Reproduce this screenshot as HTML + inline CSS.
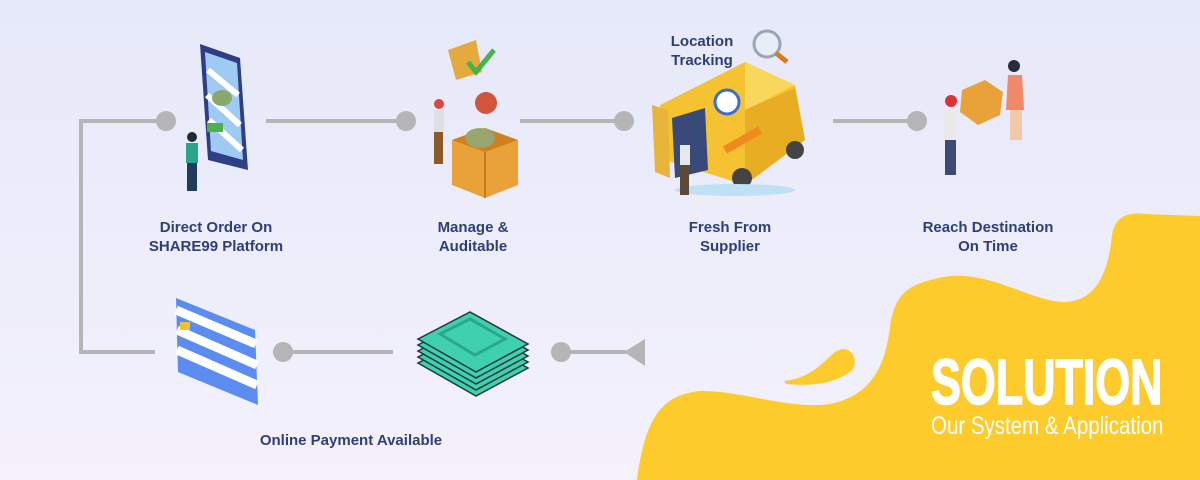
<!DOCTYPE html>
<html><head><meta charset="utf-8"><style>
html,body{margin:0;padding:0}
body{width:1200px;height:480px;overflow:hidden;background:linear-gradient(#e6e9fa,#f4f1fc);position:relative;font-family:"Liberation Sans",sans-serif}
.l{position:absolute;color:#2e3f78;font-weight:bold;font-size:15px;text-align:center;line-height:19px;width:200px}
svg{position:absolute;left:0;top:0}
.sol{position:absolute;left:931px;top:350px;color:#fff;font-weight:bold;font-size:64px;line-height:64px;transform:scaleX(0.7);transform-origin:left top;-webkit-text-stroke:1.5px #fff;white-space:nowrap}
.sub{position:absolute;left:931px;top:414px;color:#fff;font-size:25px;line-height:25px;transform:scaleX(0.82);transform-origin:left top;white-space:nowrap}
</style></head><body>
<svg width="1200" height="480" viewBox="0 0 1200 480">
<path d="M637 480 C645 420 660 395 700 391 C740 390 790 410 830 404 C875 395 886 360 890 327 C895 295 905 283 950 276 C990 272 1030 300 1063 302 C1095 302 1108 275 1112 235 C1115 215 1130 212 1145 214 L1200 216 L1200 480 Z" fill="#fecb2d"/>
<path d="M784 381 C810 378 820 365 835 352 C850 342 860 360 852 370 C835 385 808 386 786 384 Z" fill="#fecb2d"/>
<g stroke="#b5b5b5" stroke-width="4" fill="none">
<path d="M166 121 H81 V352 H155"/>
<path d="M266 121 H406"/>
<path d="M520 121 H624"/>
<path d="M833 121 H917"/>
<path d="M283 352 H393"/>
<path d="M561 352 H626"/>
</g>
<g fill="#b5b5b5">
<circle cx="166" cy="121" r="10"/><circle cx="406" cy="121" r="10"/><circle cx="624" cy="121" r="10"/><circle cx="917" cy="121" r="10"/>
<circle cx="283" cy="352" r="10"/><circle cx="561" cy="352" r="10"/>
<path d="M624 352 L645 339 L645 366 Z"/>
</g>
<path d="M200 44 L240 58 L248 170 L208 160 Z" fill="#2f3f86"/>
<path d="M205 52 L237 63 L243 160 L211 151 Z" fill="#9fcaf4"/>
<path d="M208 70 L238 95 M207 95 L240 125 M209 120 L242 150" stroke="#fff" stroke-width="6"/>
<ellipse cx="222" cy="98" rx="10" ry="8" fill="#8aa86a"/>
<rect x="207" y="123" width="16" height="9" fill="#4db04d"/>
<rect x="186" y="143" width="12" height="20" fill="#2aa58c"/>
<rect x="187" y="163" width="10" height="28" fill="#1d3d5c"/>
<circle cx="192" cy="137" r="5" fill="#1d2a3a"/>
<path d="M452 140 L485 128 L518 140 L518 185 L485 198 L452 185 Z" fill="#e9a23a"/>
<path d="M452 140 L485 152 L518 140 L485 128 Z" fill="#d27f1e"/>
<path d="M485 152 L485 198" stroke="#c97a1f" stroke-width="2"/>
<ellipse cx="480" cy="138" rx="15" ry="10" fill="#98a66e"/>
<circle cx="486" cy="103" r="11" fill="#d2553e"/>
<path d="M448 50 L476 40 L482 72 L456 80 Z" fill="#e5aa3c"/>
<path d="M468 62 L476 72 L494 50" stroke="#47b34a" stroke-width="5" fill="none"/>
<rect x="434" y="110" width="10" height="22" fill="#e0e0e0"/>
<rect x="434" y="132" width="9" height="32" fill="#8a5a2b"/>
<circle cx="439" cy="104" r="5" fill="#d44"/>
<path d="M660 105 L745 62 L795 85 L805 140 L745 185 L665 160 Z" fill="#f5c331"/>
<path d="M745 62 L795 85 L745 110 Z" fill="#f9d75a"/>
<path d="M745 110 L795 88 L805 140 L745 185 Z" fill="#e8ad22"/>
<path d="M652 105 L668 110 L670 178 L655 172 Z" fill="#e8b53a"/>
<path d="M672 118 L705 108 L708 170 L675 178 Z" fill="#384a7a"/>
<path d="M725 150 L760 130" stroke="#f08a1c" stroke-width="8"/>
<circle cx="727" cy="102" r="12" fill="#fff" stroke="#3b6fc9" stroke-width="3"/>
<circle cx="742" cy="178" r="10" fill="#444"/><circle cx="795" cy="150" r="9" fill="#444"/>
<ellipse cx="735" cy="190" rx="60" ry="6" fill="#bfe0f5"/>
<rect x="680" y="145" width="10" height="20" fill="#e8e8e8"/><rect x="680" y="165" width="9" height="30" fill="#5a4a3a"/>
<circle cx="767" cy="44" r="13" fill="#e8eef5" stroke="#9aa5b5" stroke-width="3"/>
<path d="M776 53 L787 62" stroke="#d27f1e" stroke-width="5"/>
<path d="M962 90 L985 80 L1003 92 L1000 115 L978 125 L960 112 Z" fill="#e9a23a"/>
<rect x="944" y="110" width="12" height="30" fill="#e9e9e9"/><rect x="945" y="140" width="11" height="35" fill="#3d4a78"/>
<circle cx="951" cy="101" r="6" fill="#d33"/>
<path d="M1008 75 L1022 75 L1024 110 L1006 110 Z" fill="#f0886a"/>
<rect x="1010" y="110" width="12" height="30" fill="#f2c8a8"/>
<circle cx="1014" cy="66" r="6" fill="#2a2a3a"/>
<path d="M176 298 L255 330 L258 405 L178 372 Z" fill="#5b8cf0"/>
<path d="M176 310 L256 344 M177 330 L257 365 M177 350 L257 385" stroke="#fff" stroke-width="9"/>
<rect x="180" y="322" width="10" height="8" fill="#f2c230"/>
<g fill="#3fd0b0" stroke="#1e3a3a" stroke-width="1.5">
<path d="M418 345 L470 318 L528 350 L476 378 Z" transform="translate(0,18)"/>
<path d="M418 345 L470 318 L528 350 L476 378 Z" transform="translate(0,12)"/>
<path d="M418 345 L470 318 L528 350 L476 378 Z" transform="translate(0,6)"/>
<path d="M418 345 L470 318 L528 350 L476 378 Z"/>
<path d="M418 345 L470 318 L528 350 L476 378 Z" transform="translate(0,-6)"/>
</g>
<path d="M440 334 L470 319 L505 339 L475 355 Z" fill="none" stroke="#2aa88c" stroke-width="3"/>
</svg>
<div class="l" style="left:116px;top:218px">Direct Order On<br>SHARE99 Platform</div>
<div class="l" style="left:373px;top:218px">Manage &amp;<br>Auditable</div>
<div class="l" style="left:630px;top:218px">Fresh From<br>Supplier</div>
<div class="l" style="left:888px;top:218px">Reach Destination<br>On Time</div>
<div class="l" style="left:236px;top:431px;width:230px">Online Payment Available</div>
<div class="l" style="left:652px;top:32px;width:100px">Location<br>Tracking</div>
<div class="sol">SOLUTION</div>
<div class="sub">Our System &amp; Application</div>
</body></html>
